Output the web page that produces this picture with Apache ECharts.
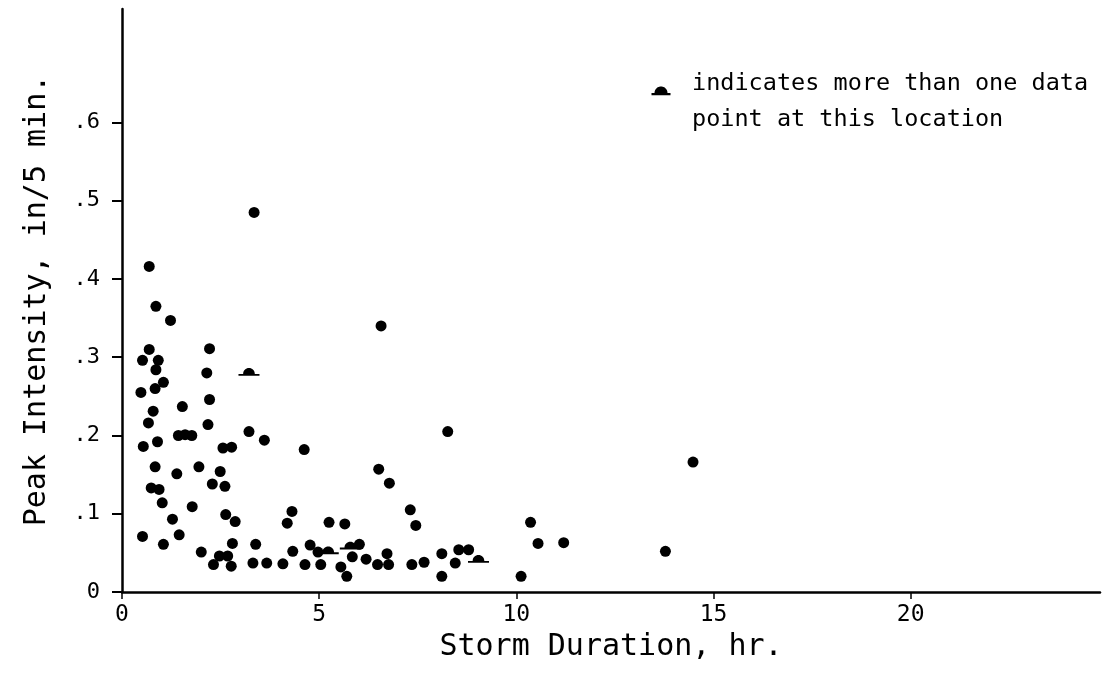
<!DOCTYPE html>
<html>
<head>
<meta charset="utf-8">
<script src="https://cdn.jsdelivr.net/npm/echarts@6/dist/echarts.min.js"></script>
<style>
  html, body { margin: 0; padding: 0; background: #fff; }
  #chart { width: 1105px; height: 683px; }
</style>
</head>
<body>
<div id="chart"></div>
<script>
// ---- data (storm duration hr, peak intensity in/5 min) ----
const singleDuration = [
  3.35, 0.69, 0.86, 1.23, 6.57, 0.69, 0.52, 0.92, 0.86, 1.05,
  0.84, 0.48, 2.22, 2.15, 2.22, 1.53, 0.79, 0.67, 2.18, 1.43,
  1.60, 1.77, 3.22, 3.61, 0.54, 0.90, 2.56, 2.78, 4.62, 0.84,
  1.39, 1.95, 2.49, 2.29, 2.61, 0.74, 0.94, 1.02, 1.78, 1.28,
  2.63, 2.87, 0.52, 1.05, 1.45, 2.80, 3.39, 2.01, 2.47, 2.68,
  2.32, 2.77, 3.32, 3.67, 4.08, 4.31, 4.19, 4.33, 4.64, 4.77,
  5.04, 4.97, 6.02, 5.84, 5.55, 5.70, 6.19, 6.48, 6.72, 6.76,
  7.35, 7.66, 8.11, 8.11, 8.54, 8.79, 8.45, 8.26, 6.51, 6.78,
  5.25, 5.65, 7.31, 7.45, 10.36, 10.55, 11.20, 10.12, 13.78, 14.48
];
const singleIntensity = [
  0.485, 0.416, 0.365, 0.347, 0.340, 0.310, 0.296, 0.296, 0.284, 0.268,
  0.260, 0.255, 0.311, 0.280, 0.246, 0.237, 0.231, 0.216, 0.214, 0.200,
  0.201, 0.200, 0.205, 0.194, 0.186, 0.192, 0.184, 0.185, 0.182, 0.160,
  0.151, 0.160, 0.154, 0.138, 0.135, 0.133, 0.131, 0.114, 0.109, 0.093,
  0.099, 0.090, 0.071, 0.061, 0.073, 0.062, 0.061, 0.051, 0.046, 0.046,
  0.035, 0.033, 0.037, 0.037, 0.036, 0.103, 0.088, 0.052, 0.035, 0.060,
  0.035, 0.051, 0.061, 0.045, 0.032, 0.020, 0.042, 0.035, 0.049, 0.035,
  0.035, 0.038, 0.049, 0.020, 0.054, 0.054, 0.037, 0.205, 0.157, 0.139,
  0.089, 0.087, 0.105, 0.085, 0.089, 0.062, 0.063, 0.020, 0.052, 0.166
];
// locations with more than one data point
const multiDuration  = [3.22, 9.04, 5.23, 5.79];
const multiIntensity = [0.280, 0.041, 0.052, 0.058];

const xTickValues = [0, 5, 10, 15, 20];
const xTickLabels = ['0', '5', '10', '15', '20'];
const yTickValues = [0, 0.1, 0.2, 0.3, 0.4, 0.5, 0.6];
const yTickLabels = ['0', '.1', '.2', '.3', '.4', '.5', '.6'];

const xTitle = 'Storm Duration, hr.';
const yTitle = 'Peak Intensity, in/5 min.';
const noteLine1 = 'indicates more than one data';
const noteLine2 = 'point at this location';

// ---- build ----
const FONT = '"DejaVu Sans Mono", "DejaVu Sans", sans-serif';
const singleData = singleDuration.map((x, i) => [x, singleIntensity[i]]);
const multiData = multiDuration.map((x, i) => [x, multiIntensity[i]]);
// dome (semicircle) standing on a short bar
const domePath = 'path://M0,6 L4,6 C4,3.24 6.24,1 9,1 C11.76,1 14,3.24 14,6 L18,6 L18,7.6 L0,7.6 Z';

function labelFor(values, labels) {
  return function (v) {
    for (let i = 0; i < values.length; i++) {
      if (Math.abs(values[i] - v) < 1e-6) return labels[i];
    }
    return '';
  };
}

// legend marker polygon (semicircle + bar), screen-space annotation
function domePoints(cx, cy, r, halfBar, barH) {
  const pts = [[cx - halfBar, cy]];
  for (let k = 0; k <= 24; k++) {
    const a = Math.PI + (Math.PI * k) / 24;
    pts.push([cx + r * Math.cos(a), cy + r * Math.sin(a)]);
  }
  pts.push([cx + halfBar, cy], [cx + halfBar, cy + barH], [cx - halfBar, cy + barH]);
  return pts;
}

const chart = echarts.init(document.getElementById('chart'), null, { renderer: 'canvas' });
chart.setOption({
  backgroundColor: '#ffffff',
  animation: false,
  grid: { left: 122, right: 5, top: 9, bottom: 91, containLabel: false },
  xAxis: {
    type: 'value',
    min: 0,
    max: 24.8,
    name: xTitle,
    nameLocation: 'middle',
    nameGap: 40,
    nameTextStyle: { fontFamily: FONT, fontSize: 30, color: '#000' },
    axisLine: { show: true, onZero: false, lineStyle: { color: '#000', width: 2.5 } },
    axisTick: { show: true, customValues: xTickValues, length: 7, lineStyle: { color: '#000', width: 1.5 } },
    axisLabel: {
      show: true, customValues: xTickValues, margin: 12,
      fontFamily: FONT, fontSize: 23, color: '#000',
      formatter: labelFor(xTickValues, xTickLabels)
    },
    splitLine: { show: false }
  },
  yAxis: {
    type: 'value',
    min: 0,
    max: 0.745,
    name: yTitle,
    nameLocation: 'middle',
    nameGap: 70,
    nameRotate: 90,
    nameTextStyle: { fontFamily: FONT, fontSize: 30, color: '#000' },
    axisLine: { show: true, onZero: false, lineStyle: { color: '#000', width: 2.5 } },
    axisTick: { show: true, customValues: yTickValues, length: 10, lineStyle: { color: '#000', width: 2 } },
    axisLabel: {
      show: true, customValues: yTickValues, margin: 22,
      fontFamily: FONT, fontSize: 22, color: '#000',
      formatter: labelFor(yTickValues, yTickLabels)
    },
    splitLine: { show: false }
  },
  series: [
    {
      type: 'scatter',
      name: 'single',
      data: singleData,
      symbol: 'circle',
      symbolSize: 11,
      itemStyle: { color: '#000', opacity: 1 },
      z: 3
    },
    {
      type: 'scatter',
      name: 'multiple',
      data: multiData,
      symbol: domePath,
      symbolSize: [21, 7.8],
      symbolOffset: [0, -1],
      symbolKeepAspect: false,
      itemStyle: { color: '#000', opacity: 1 },
      z: 4
    }
  ],
  graphic: [
    { type: 'polygon', shape: { points: domePoints(661, 93, 6.5, 9.5, 2.2) }, style: { fill: '#000' } },
    { type: 'text', left: 692, top: 72, style: { text: noteLine1, fontFamily: FONT, fontSize: 23.5, fill: '#000' } },
    { type: 'text', left: 692, top: 108, style: { text: noteLine2, fontFamily: FONT, fontSize: 23.5, fill: '#000' } }
  ]
});
</script>
</body>
</html>
